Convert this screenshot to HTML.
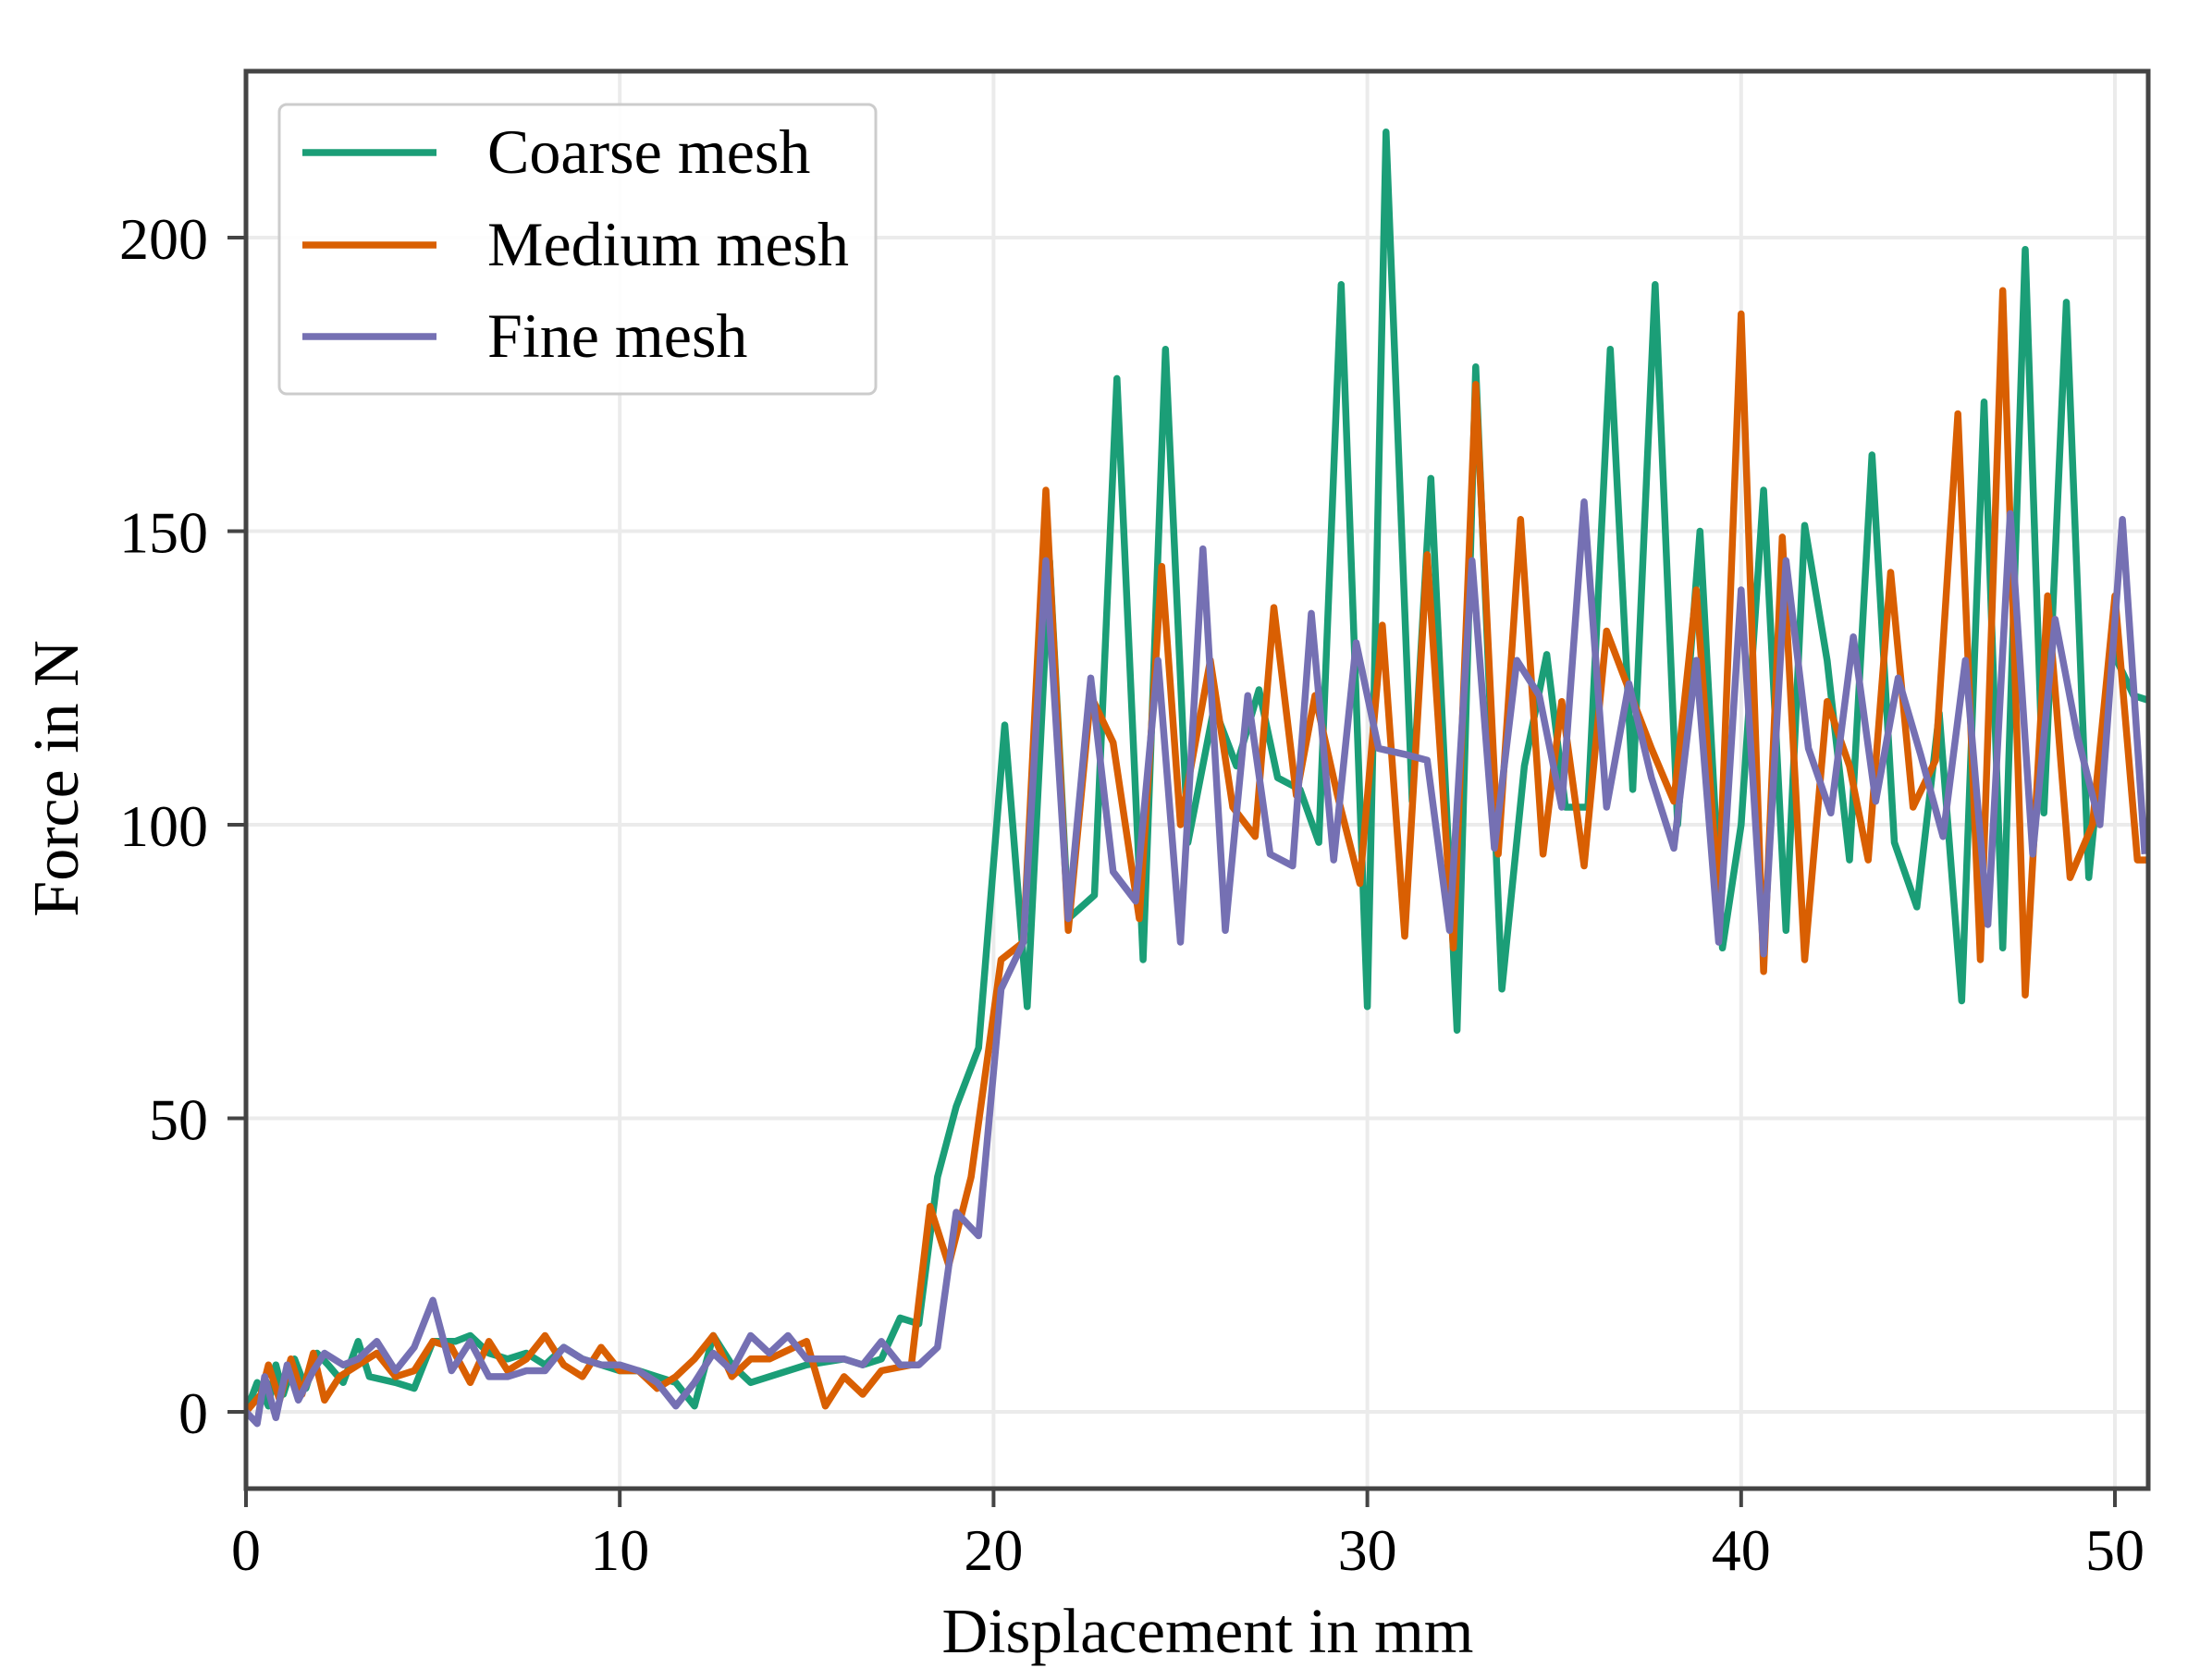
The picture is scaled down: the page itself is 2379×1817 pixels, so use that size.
<!DOCTYPE html>
<html><head><meta charset="utf-8"><style>
html,body{margin:0;padding:0;background:#fff;}
svg{display:block;font-family:"Liberation Serif",serif;}
</style></head><body>
<svg id="chart" width="2379" height="1817" viewBox="0 0 2379 1817" xmlns="http://www.w3.org/2000/svg">
<defs><clipPath id="pc"><rect x="266" y="77" width="2057" height="1533"/></clipPath></defs>
<g id="grid"></g>
<g id="series" clip-path="url(#pc)"></g>
<rect x="266" y="77" width="2057" height="1533" fill="none" stroke="#444" stroke-width="5"/>
<g id="ticks"></g>
<text x="1306" y="1787" font-size="69" text-anchor="middle">Displacement in mm</text>
<text transform="translate(84,842) rotate(-90)" font-size="70" text-anchor="middle">Force in N</text>
<g>
<rect x="302" y="113" width="645" height="313" rx="8" fill="#fff" fill-opacity="0.9" stroke="#ccc" stroke-width="3"/>
<line x1="327" y1="165" x2="472" y2="165" stroke="#1b9e77" stroke-width="7.5"/>
<text x="527" y="187" font-size="68">Coarse mesh</text>
<line x1="327" y1="265" x2="472" y2="265" stroke="#d95f02" stroke-width="7.5"/>
<text x="527" y="287" font-size="68">Medium mesh</text>
<line x1="327" y1="364" x2="472" y2="364" stroke="#7570b3" stroke-width="7.5"/>
<text x="527" y="386" font-size="68">Fine mesh</text>
</g>
</svg>
<script>
const xTicks=[0,10,20,30,40,50];
const yTicks=[0,50,100,150,200];
const coarseX=[0,.3,.6,.8,1,1.3,1.6,1.9,2.2,2.6,3,3.3,4,4.5,5,5.6,6,6.5,7,7.5,8,8.5,9,10,10.5,11,11.5,12,12.5,13,13.5,14,15,16,16.5,17,17.5,18,18.5,19,19.6,20.3,20.9,21.5,22,22.7,23.3,24,24.6,25.2,25.9,26.5,27.1,27.6,28.2,28.7,29.3,30,30.5,31.2,31.7,32.4,32.9,33.6,34.2,34.8,35.3,35.9,36.5,37.1,37.7,38.3,38.9,39.5,40,40.6,41.2,41.7,42.3,42.9,43.5,44.1,44.7,45.3,45.9,46.5,47,47.6,48.1,48.7,49.3,49.9,50.5,51];
const coarseY=[0,5,1,8,3,9,4,10,8,5,12,6,5,4,12,12,13,10,9,10,8,11,9,7,7,6,5,1,13,8,5,6,8,9,8,9,16,15,40,52,62,117,69,145,84,88,176,77,181,97,120,110,123,108,106,97,192,69,218,104,159,65,178,72,110,129,103,103,181,106,192,100,150,79,100,157,82,151,128,94,163,97,86,119,70,172,79,198,102,189,91,130,122,121];
const mediumX=[0,.4,.6,.9,1.2,1.5,1.8,2.1,2.5,3,3.5,4,4.5,5,5.5,6,6.5,7,7.5,8,8.5,9,9.5,10,10.5,11,11.5,12,12.5,13,13.5,14,15,15.5,16,16.5,17,17.8,18.3,18.8,19.4,20.2,20.8,21.4,22,22.6,23.2,23.9,24.5,25,25.8,26.4,27,27.5,28.1,28.6,29.2,29.8,30.4,31,31.6,32.3,32.9,33.5,34.1,34.7,35.2,35.8,36.4,37,37.6,38.2,38.8,39.4,40,40.6,41.1,41.7,42.3,42.9,43.4,44,44.6,45.2,45.8,46.4,47,47.6,48.2,48.8,49.4,50,50.6,51];
const mediumY=[0,3,8,2,9,3,10,2,6,8,10,6,7,12,11,5,12,7,9,13,8,6,11,7,7,4,6,9,13,6,9,9,12,1,6,3,7,8,35,25,40,77,80,157,82,122,114,84,144,100,128,103,98,137,105,122,105,90,134,81,146,79,175,95,152,95,121,93,133,123,113,104,140,87,187,75,149,77,121,110,94,143,103,111,170,77,191,71,139,91,100,139,94,94];
const fineX=[0,.3,.5,.8,1.1,1.4,1.8,2.1,2.6,3,3.5,4,4.5,5,5.5,6,6.5,7,7.5,8,8.5,9,9.5,10,10.5,11,11.5,12,12.5,13,13.5,14,14.5,15,16,16.5,17,17.5,18,18.5,19,19.6,20.2,20.8,21.4,22,22.6,23.2,23.8,24.4,25,25.6,26.2,26.8,27.4,28,28.5,29.1,29.7,30.3,31,31.6,32.2,32.8,33.4,34,34.6,35.2,35.8,36.4,37,37.6,38.2,38.8,39.4,40,40.6,41.2,41.8,42.4,43,43.6,44.2,44.8,45.4,46,46.6,47.2,47.8,48.4,49,49.6,50.2,50.8];
const fineY=[0,-2,6,-1,8,2,7,10,8,9,12,7,11,19,7,12,6,6,7,7,11,9,8,8,7,5,1,5,10,7,13,10,13,9,9,8,12,8,8,11,34,30,72,80,145,84,125,92,87,128,80,147,82,122,95,93,136,94,131,113,112,111,82,145,96,128,122,103,155,103,124,108,96,128,80,140,78,145,113,102,132,104,125,112,98,128,83,153,95,135,115,100,152,95];
const X0=266,XS=40.42,Y0=1527,YS=6.35;
const sx=v=>X0+v*XS, sy=v=>Y0-v*YS;
const NS="http://www.w3.org/2000/svg";
const grid=document.getElementById('grid'),ticks=document.getElementById('ticks'),ser=document.getElementById('series');
function mk(t,a,p){const e=document.createElementNS(NS,t);for(const k in a)e.setAttribute(k,a[k]);p.appendChild(e);return e;}
xTicks.forEach(v=>{
 const g=mk('line',{x1:sx(v),x2:sx(v),y1:77,y2:1610,stroke:'#ebebeb','stroke-width':4},grid);
 
 
 const t=mk('line',{x1:sx(v),x2:sx(v),y1:1610,y2:1630,stroke:'#444','stroke-width':4},ticks);
 
 
 const l=mk('text',{x:sx(v),y:1698,'font-size':64,'text-anchor':'middle'},ticks);
 l.textContent=v;
 
 
});
yTicks.forEach(v=>{
 const g=mk('line',{x1:266,x2:2323,y1:sy(v),y2:sy(v),stroke:'#ebebeb','stroke-width':4},grid);
 
 
 const t=mk('line',{x1:246,x2:266,y1:sy(v),y2:sy(v),stroke:'#444','stroke-width':4},ticks);
 
 
 const l=mk('text',{x:225,y:sy(v)+23,'font-size':64,'text-anchor':'end'},ticks);
 l.textContent=v;
 
 
});
[[coarseX,coarseY,'#1b9e77','coarse-mesh-line'],[mediumX,mediumY,'#d95f02','medium-mesh-line'],[fineX,fineY,'#7570b3','fine-mesh-line']].forEach(s=>{
 const pts=s[0].map((x,i)=>sx(x).toFixed(1)+','+sy(s[1][i]).toFixed(1)).join(' ');
 const p=mk('polyline',{points:pts,fill:'none',stroke:s[2],'stroke-width':7.5,'stroke-linejoin':'round'},ser);
 
 
});
</script>
</body></html>
